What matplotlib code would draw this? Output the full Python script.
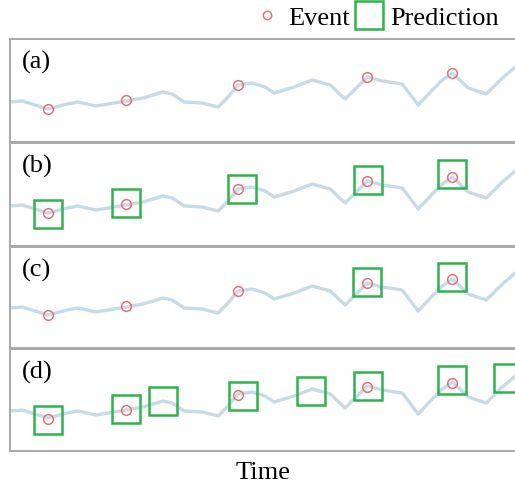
import matplotlib.pyplot as plt
from matplotlib.lines import Line2D

# Time series (same signal in every panel)
series_t = [10, 22, 48, 67, 78, 96, 126, 143, 163, 172, 184, 202, 218, 226, 238, 252,
            265, 274, 294, 312, 330, 345, 353, 367, 382, 402, 418, 432, 441, 452, 468,
            486, 502, 515]
series_v = [40, 41, 33, 38, 40, 36, 41, 44, 50, 48, 40, 39, 35, 43, 57, 59,
            55, 49, 55, 62, 57, 43, 51, 65, 61, 58, 37, 52, 61, 69, 54,
            48, 64, 75]

# Events (red circles)
event_t = [48, 126, 238, 367, 452]
event_v = [33, 42, 57, 65, 69]

# Predictions (green squares) per panel
pred_t = {
    "(a)": [],
    "(b)": [48, 126, 242, 368, 452],
    "(c)": [367, 452],
    "(d)": [48, 126, 163, 243, 311, 368, 452, 508],
}
pred_v = {
    "(a)": [],
    "(b)": [32, 43, 57, 66, 72],
    "(c)": [66, 71],
    "(d)": [31, 42, 50, 55, 60, 65, 71, 73],
}

line_color = "#c6dbe6"
event_color = "#e8707a"
pred_color = "#2eb34c"
serif = "Liberation Serif"

W, H = 515, 489
fig = plt.figure(figsize=(W / 100, H / 100), dpi=100)

# panel pixel extents (top, bottom)
panels = [("(a)", 40, 143), ("(b)", 144, 247), ("(c)", 248, 349), ("(d)", 350, 452)]
x_left = 10

for name, top, bottom in panels:
    ax = fig.add_axes([x_left / W, 1 - bottom / H, (W - x_left) / W + 0.02, (bottom - top) / H])
    ax.set_xlim(10, 525)
    ax.set_ylim(0, bottom - top)
    ax.plot(series_t, series_v, color=line_color, lw=2.4, solid_joinstyle="round", zorder=1)
    ax.plot(event_t, [v + (0 if name != "(d)" else -1) for v in event_v], "o", ms=7, mfc="none",
            mec=event_color, mew=1.1, zorder=3)
    if pred_t[name]:
        ax.plot(pred_t[name], pred_v[name], "s", ms=20, mfc="none", mec=pred_color, mew=1.8, zorder=2)
    ax.text(12 / W, 0.89, name, transform=ax.transAxes, fontsize=19, family=serif,
            va="top", ha="left")
    ax.set_xticks([])
    ax.set_yticks([])
    for s in ["top", "left", "bottom"]:
        ax.spines[s].set_color("#a8a8a8")
        ax.spines[s].set_linewidth(1.4)
    ax.spines["right"].set_visible(False)

handles = [
    Line2D([], [], marker="o", ls="none", ms=6, mfc="none", mec=event_color, mew=1.1, label="Event"),
    Line2D([], [], marker="s", ls="none", ms=20, mfc="none", mec=pred_color, mew=1.8, label="Prediction"),
]
fig.legend(handles=handles, loc="center right", bbox_to_anchor=(0.995, 1 - 18 / H), ncol=2,
           frameon=False, prop={"family": serif, "size": 19}, handletextpad=0.3,
           columnspacing=0.25, handlelength=1.0, borderpad=0)

fig.text(263 / W, 1 - 473 / H, "Time", ha="center", va="center", fontsize=19, family=serif)

fig.savefig("out.png", dpi=100)
